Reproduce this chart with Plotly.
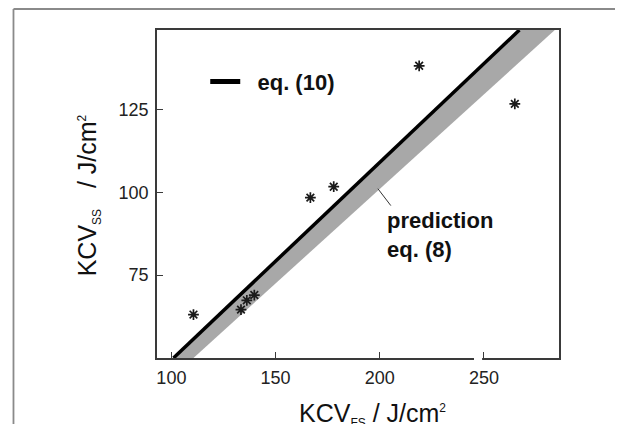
import plotly.graph_objects as go

# Measured points (KCV_FS, KCV_SS)
kcv_fs = [110.6, 133.4, 136.2, 139.8, 166.7, 177.9, 218.9, 264.8]
kcv_ss = [63.1, 64.6, 67.4, 69.0, 98.4, 101.7, 138.2, 126.7]

# eq. (10) line
eq10_x = [101.0, 267.0]
eq10_y = [50.0, 149.0]

# lower edge of prediction band, eq. (8)
pred_low_x = [110.6, 284.0]
pred_low_y = [50.0, 149.0]

# leader line for "prediction eq. (8)" label
leader_x = [199.1, 205.3]
leader_y = [101.1, 96.0]

x_ticks = [100, 150, 200, 250]
y_ticks = [75, 100, 125]

FONT = "Liberation Sans, Arial, sans-serif"

fig = go.Figure()

fig.add_trace(go.Scatter(x=pred_low_x, y=pred_low_y, mode="lines",
                         line=dict(width=0, color="#a8a8a8"),
                         showlegend=False, hoverinfo="skip"))
fig.add_trace(go.Scatter(x=eq10_x, y=eq10_y, mode="lines",
                         line=dict(width=3.5, color="#000000"),
                         fill="tonexty", fillcolor="#a8a8a8",
                         showlegend=False))
# legend-only entry
fig.add_trace(go.Scatter(x=[None], y=[None], mode="lines",
                         line=dict(width=5, color="#000000"),
                         name="\u00a0\u00a0eq. (10)", showlegend=True))
fig.add_trace(go.Scatter(x=leader_x, y=leader_y, mode="lines",
                         line=dict(width=1, color="#333333"),
                         showlegend=False, hoverinfo="skip"))
fig.add_trace(go.Scatter(x=kcv_fs, y=kcv_ss, mode="markers",
                         marker=dict(symbol="asterisk-open", size=9, color="#1a1a1a",
                                     line=dict(width=1.7, color="#1a1a1a")),
                         showlegend=False))

axis_common = dict(
    showline=True, linecolor="#3a3a3a", linewidth=1.5, mirror=True,
    ticks="inside", ticklen=6, tickwidth=1.3, tickcolor="#3a3a3a",
    showgrid=False, zeroline=False, ticklabelstandoff=3,
    tickfont=dict(family=FONT, size=18, color="#222222"),
)

# page body has an 8px margin, so figure is 615x416 placed at (8,8)
fig.update_layout(
    width=615, height=416,
    margin=dict(l=149, r=64, t=22, b=66),
    paper_bgcolor="white", plot_bgcolor="white",
    font=dict(family=FONT, color="#111111"),
    xaxis=dict(range=[93.1, 286.0], tickvals=x_ticks, **axis_common),
    yaxis=dict(range=[50, 149.0], tickvals=y_ticks, **axis_common),
    legend=dict(x=0.12, y=0.842, xanchor="left", yanchor="middle",
                bgcolor="rgba(0,0,0,0)",
                font=dict(family=FONT, size=22, color="#111111", weight="bold")),
    showlegend=True,
)

annotations = [
    dict(x=202.4, y=87.1, xref="x", yref="y", xanchor="left", yanchor="middle",
         text="<b>prediction<br>eq. (8)</b>", align="left", showarrow=False,
         font=dict(family=FONT, size=22, color="#111111")),
    dict(x=0.537, y=-0.172, xref="paper", yref="paper", xanchor="center", yanchor="middle",
         text="KCV<sub><span style='font-size:12px'>FS</span></sub> / J/cm<sup><span style='font-size:12px'>2</span></sup>",
         showarrow=False, font=dict(family=FONT, size=25, color="#111111")),
    dict(x=-0.17, y=0.495, xref="paper", yref="paper", xanchor="center", yanchor="middle",
         text="KCV<sub><span style='font-size:12px'>SS</span></sub>\u00a0\u00a0 / J/cm<sup><span style='font-size:12px'>2</span></sup>",
         textangle=-90, showarrow=False, font=dict(family=FONT, size=25, color="#111111")),
]
fig.update_layout(annotations=annotations)

shapes = [
    # outer frame (top and left)
    dict(type="line", xref="paper", yref="paper", x0=-0.357, x1=1.2, y0=1.064, y1=1.064,
         line=dict(color="#8a8a8a", width=1.8)),
    dict(type="line", xref="paper", yref="paper", x0=-0.357, x1=-0.357, y0=1.064, y1=-0.3,
         line=dict(color="#8a8a8a", width=1.8)),
    # small gap in x axis line
    dict(type="rect", xref="x", yref="paper", x0=245.2, x1=249.1, y0=-0.015, y1=0.012,
         line=dict(width=0), fillcolor="white", layer="above"),
]
fig.update_layout(shapes=shapes)

fig.write_html("out.html")
